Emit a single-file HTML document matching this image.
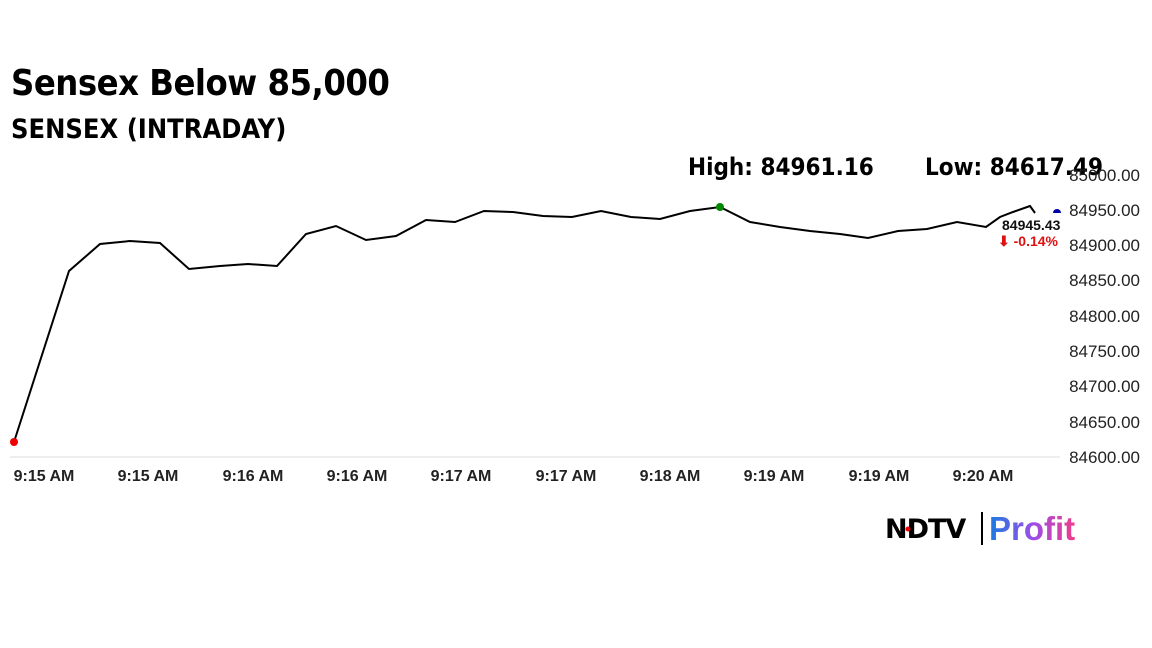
<!DOCTYPE html>
<html><head><meta charset="utf-8"><style>
body{margin:0;width:1152px;height:648px;background:#fff;overflow:hidden;font-family:"Liberation Sans",sans-serif;}
.t{position:absolute;color:#000;}
</style></head><body>
<div class="t" style="left:11px;top:63px;font-size:36px;font-weight:bold;font-family:'DejaVu Sans Condensed','Liberation Sans',sans-serif;letter-spacing:-0.5px">Sensex Below 85,000</div>
<div class="t" style="left:11px;top:114px;font-size:27px;font-weight:bold;font-family:'DejaVu Sans Condensed','Liberation Sans',sans-serif">SENSEX (INTRADAY)</div>
<svg width="1152" height="648" style="position:absolute;left:0;top:0">
<line x1="10" y1="457" x2="1060" y2="457" stroke="#ddd"/>
<g font-family="'DejaVu Sans Condensed','Liberation Sans',sans-serif" font-weight="bold" font-size="24">
<text x="688" y="175">High: 84961.16</text>
<text x="925" y="175">Low: 84617.49</text>
</g>
<g font-size="17" fill="#222" text-anchor="end">
<text x="1140" y="181">85000.00</text><text x="1140" y="216">84950.00</text><text x="1140" y="251">84900.00</text><text x="1140" y="286">84850.00</text><text x="1140" y="322">84800.00</text><text x="1140" y="357">84750.00</text><text x="1140" y="392">84700.00</text><text x="1140" y="428">84650.00</text><text x="1140" y="463">84600.00</text>
</g>
<g font-size="16" font-weight="bold" fill="#222" text-anchor="middle">
<text x="44" y="481">9:15 AM</text><text x="148" y="481">9:15 AM</text><text x="253" y="481">9:16 AM</text><text x="357" y="481">9:16 AM</text><text x="461" y="481">9:17 AM</text><text x="566" y="481">9:17 AM</text><text x="670" y="481">9:18 AM</text><text x="774" y="481">9:19 AM</text><text x="879" y="481">9:19 AM</text><text x="983" y="481">9:20 AM</text>
</g>
<polyline fill="none" stroke="#000" stroke-width="2" points="14,442 69,271 100,244 130,241 160,243 189,269 220,266 248,264 277,266 306,234 336,226 366,240 396,236 426,220 455,222 484,211 513,212 543,216 572,217 601,211 631,217 660,219 690,211 720,207 750,222 780,227 810,231 840,234 868,238 898,231 927,229 957,222 986,227 1000,217 1013,212 1030,206 1035,213"/>
<circle cx="14" cy="442" r="4" fill="#e00"/>
<circle cx="720" cy="207" r="4" fill="#080"/>
<path d="M1053,213 a4,4 0 0 1 8,0 z" fill="#00a"/>
<text x="1002" y="230" font-size="14" font-weight="bold" fill="#111">84945.43</text>
<text x="998" y="246" font-size="14" font-weight="bold" fill="#d11">⬇ -0.14%</text>
<text x="885" y="538" font-size="27" font-weight="900" font-family="'DejaVu Sans','Liberation Sans',sans-serif" letter-spacing="-1">NDTV</text>
<circle cx="908" cy="529" r="2.5" fill="#e00"/>
<line x1="982" y1="512" x2="982" y2="545" stroke="#000" stroke-width="2"/>
<defs><linearGradient id="g" x1="0" x2="1"><stop offset="0" stop-color="#1a7ce0"/><stop offset="0.5" stop-color="#9a4ee8"/><stop offset="1" stop-color="#f03c8c"/></linearGradient></defs>
<text x="989" y="540" font-size="33" font-weight="bold" fill="url(#g)">Profit</text>
</svg>
</body></html>
